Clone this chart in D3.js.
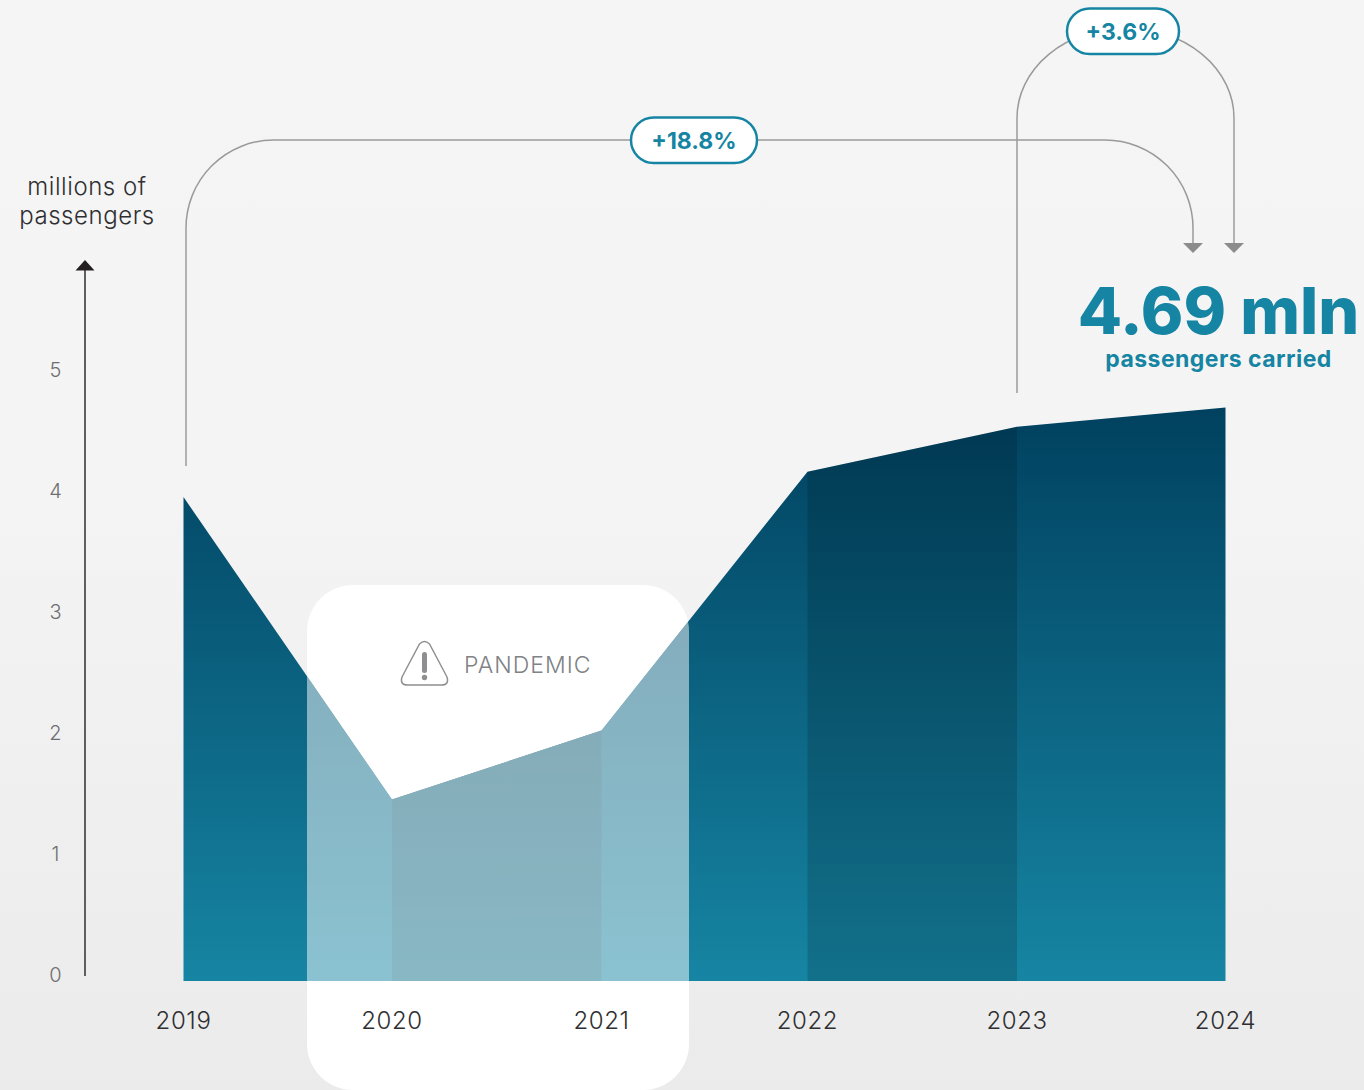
<!DOCTYPE html>
<html>
<head>
<meta charset="utf-8">
<style>
  html, body { margin: 0; padding: 0; background: #f5f5f5; overflow: hidden; }
  svg { display: block; }
  text { font-family: "Inter", "Open Sans", sans-serif; }
</style>
<script src="https://cdn.jsdelivr.net/npm/d3@7/dist/d3.min.js"></script>
</head>
<body>
<svg id="chart" width="1364" height="1090"></svg>
<script>
const years = [2019, 2020, 2021, 2022, 2023, 2024];
const passengers = [3.95, 1.45, 2.02, 4.16, 4.53, 4.69];
const yTicks = [0, 1, 2, 3, 4, 5];
const shadedSpans = [[2020, 2021], [2022, 2023]];
const growthLabels = ["+18.8%", "+3.6%"];

const W = 1364, H = 1090;
const svg = d3.select("#chart");

const xBand = d3.scaleLinear().domain([2019, 2020, 2021, 2022, 2023, 2024])
  .range([183.5, 392, 601.5, 807.5, 1017, 1225.5]);
const y = d3.scaleLinear().domain([0, 5]).range([975, 370]);
const baseY = 981;

const rows = years.map((yr, i) => ({ yr, v: passengers[i] }));

const defs = svg.append("defs");
const bg = defs.append("linearGradient").attr("id", "bg")
  .attr("x1", 0).attr("x2", 0).attr("y1", 0).attr("y2", 1);
bg.append("stop").attr("offset", "0%").attr("stop-color", "#f5f5f5");
bg.append("stop").attr("offset", "45%").attr("stop-color", "#f4f4f4");
bg.append("stop").attr("offset", "100%").attr("stop-color", "#ebebec");

const fill = defs.append("linearGradient").attr("id", "areaFill")
  .attr("gradientUnits", "userSpaceOnUse")
  .attr("x1", 0).attr("x2", 0).attr("y1", y(4.69)).attr("y2", baseY);
fill.append("stop").attr("offset", "0%").attr("stop-color", "#00415f");
fill.append("stop").attr("offset", "100%").attr("stop-color", "#1685a3");

const area = d3.area().x(d => xBand(d.yr)).y0(baseY).y1(d => y(d.v));

defs.append("clipPath").attr("id", "areaClip")
  .append("path").attr("d", area(rows));

svg.append("rect").attr("width", W).attr("height", H).attr("fill", "url(#bg)");

// White panel marking the pandemic years, sits behind the area
const panel = { x: 307, y: 585, w: 382, h: 505, r: 46 };
svg.append("rect").attr("x", panel.x).attr("y", panel.y)
  .attr("width", panel.w).attr("height", panel.h).attr("rx", panel.r)
  .attr("fill", "#fff");

svg.append("path").attr("d", area(rows)).attr("fill", "url(#areaFill)");

// Darker bands on alternating year spans
const bands = svg.append("g").attr("clip-path", "url(#areaClip)");
bands.selectAll("rect").data(shadedSpans).join("rect")
  .attr("x", d => xBand(d[0]))
  .attr("width", d => xBand(d[1]) - xBand(d[0]))
  .attr("y", 300).attr("height", baseY - 300)
  .attr("fill", "#000").attr("opacity", 0.15);

// Panel veil over the area
svg.append("g").attr("clip-path", "url(#areaClip)")
  .append("rect").attr("x", panel.x).attr("y", panel.y)
  .attr("width", panel.w).attr("height", panel.h).attr("rx", panel.r)
  .attr("fill", "#fff").attr("opacity", 0.5);

// Vertical axis
const axisX = 85;
svg.append("line").attr("x1", axisX).attr("x2", axisX)
  .attr("y1", 976).attr("y2", 266).attr("stroke", "#3a3a3c").attr("stroke-width", 1.6);
svg.append("path").attr("d", `M${axisX - 9.5},270.5L${axisX},260L${axisX + 9.5},270.5Z`).attr("fill", "#231f20");

svg.append("g").selectAll("text").data(yTicks).join("text")
  .attr("x", 55.5).attr("y", d => y(d) + 7)
  .attr("text-anchor", "middle")
  .attr("font-size", 20).attr("font-weight", 300).attr("fill", "#6d6e71")
  .text(d => d);

svg.append("g").selectAll("text").data(years).join("text")
  .attr("x", d => xBand(d)).attr("y", 1029)
  .attr("text-anchor", "middle")
  .attr("font-size", 24).attr("font-weight", 300).attr("fill", "#2f2f31")
  .attr("letter-spacing", 0.6)
  .text(d => d);

svg.selectAll("text.axis-title").data(["millions of", "passengers"]).join("text")
  .attr("class", "axis-title")
  .attr("x", 87).attr("y", (d, i) => 195 + i * 29)
  .attr("text-anchor", "middle")
  .attr("font-size", 24).attr("font-weight", 300).attr("fill", "#2f2f31")
  .attr("letter-spacing", 0.55)
  .text(d => d);

// Growth brackets
const connector = "#9a9a9a";
const x19 = xBand(2019) + 2.5, x23 = xBand(2023);
const lines = [
  `M${x19},466V228A88,88 0 0 1 ${x19 + 88},140H1105A88,88 0 0 1 1193,228V244`,
  `M${x23},393V118A108.5,90 0 0 1 1125.5,28A108.5,90 0 0 1 1234,118V244`
];
svg.append("g").selectAll("path").data(lines).join("path")
  .attr("d", d => d).attr("fill", "none").attr("stroke", connector).attr("stroke-width", 1.5);
svg.append("g").selectAll("path").data([1193, 1234]).join("path")
  .attr("d", d => `M${d - 10},243H${d + 10}L${d},253Z`).attr("fill", "#8c8c8c");

const pills = [
  { label: growthLabels[0], x: 631, y: 117.5, w: 126, h: 45.5 },
  { label: growthLabels[1], x: 1067, y: 8.5, w: 112, h: 45.5 }
];
const pill = svg.append("g").selectAll("g").data(pills).join("g");
pill.append("rect")
  .attr("x", d => d.x).attr("y", d => d.y).attr("width", d => d.w).attr("height", d => d.h)
  .attr("rx", 22.7).attr("fill", "#fff").attr("stroke", "#1685a3").attr("stroke-width", 2.5);
pill.append("text")
  .attr("x", d => d.x + d.w / 2).attr("y", d => d.y + d.h / 2 + 8.5)
  .attr("text-anchor", "middle").attr("font-size", 23).attr("font-weight", 700)
  .attr("fill", "#1685a3").text(d => d.label);

// Headline figure
svg.append("text").attr("x", 1218.5).attr("y", 334)
  .attr("text-anchor", "middle").attr("font-size", 64.5).attr("font-weight", 800)
  .attr("fill", "#1685a3").text("4.69 mln");
svg.append("text").attr("x", 1218.5).attr("y", 367)
  .attr("text-anchor", "middle").attr("font-size", 23).attr("font-weight", 700)
  .attr("letter-spacing", 0.45)
  .attr("fill", "#1685a3").text("passengers carried");

// Pandemic note
const warn = svg.append("g").attr("transform", "translate(424.5,0)");
warn.append("path")
  .attr("d", "M-5,644Q0,639 5,644L22.5,677Q25,685 17,685H-17Q-25,685 -22.5,677Z")
  .attr("fill", "none").attr("stroke", "#8f8f91").attr("stroke-width", 1.4);
warn.append("rect").attr("x", -2.5).attr("y", 652).attr("width", 5).attr("height", 21)
  .attr("rx", 2.5).attr("fill", "#8f8f91");
warn.append("circle").attr("cx", 0).attr("cy", 677.5).attr("r", 2.7).attr("fill", "#8f8f91");
svg.append("text").attr("x", 464).attr("y", 673)
  .attr("font-size", 23).attr("font-weight", 300).attr("fill", "#808285")
  .attr("letter-spacing", 1).text("PANDEMIC");
</script>
</body>
</html>
